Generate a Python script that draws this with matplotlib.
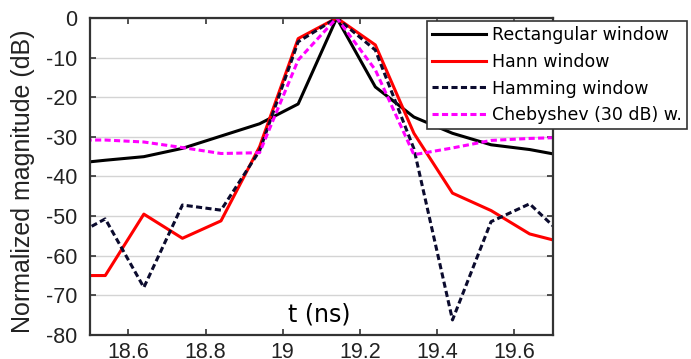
import matplotlib
matplotlib.use("Agg")
import matplotlib.pyplot as plt

plt.rcParams["font.family"] = ["Liberation Sans", "DejaVu Sans"]

# time samples (ns)
t = [18.44, 18.54, 18.64, 18.74, 18.84, 18.94, 19.04, 19.14, 19.24, 19.34, 19.44, 19.54, 19.64, 19.74]

# normalized magnitude (dB) per window
rect = [-36.9, -35.9, -35.0, -32.9, -29.8, -26.7, -21.7, 0.0, -17.4, -25.0, -29.1, -32.0, -33.2, -35.0]
hann = [-65.0, -65.0, -49.5, -55.6, -51.2, -32.5, -5.2, 0.0, -6.8, -29.1, -44.2, -48.6, -54.5, -57.0]
hamming = [-56.0, -50.7, -68.0, -47.2, -48.5, -33.5, -6.0, 0.0, -8.1, -33.0, -76.2, -51.4, -46.9, -56.1]
cheb = [-30.8, -30.8, -31.3, -32.7, -34.2, -34.0, -10.6, 0.0, -13.1, -34.5, -32.8, -30.9, -30.4, -30.1]

labels = ["Rectangular window", "Hann window", "Hamming window", "Chebyshev (30 dB) w."]
xticks = [18.6, 18.8, 19.0, 19.2, 19.4, 19.6]
xticklabels = ["18.6", "18.8", "19", "19.2", "19.4", "19.6"]
yticks = [-80, -70, -60, -50, -40, -30, -20, -10, 0]
yticklabels = ["-80", "-70", "-60", "-50", "-40", "-30", "-20", "-10", "0"]

fig = plt.figure(figsize=(6.91, 3.59), dpi=100)
ax = fig.add_axes([0.130, 0.0669, 0.670, 0.883])

lw = 2.2
dash = (0, (2, 1.1))
ax.plot(t, rect, color="black", lw=lw, label=labels[0])
ax.plot(t, hann, color="#ff0000", lw=lw, label=labels[1])
ax.plot(t, hamming, color="#0b0b2e", lw=lw, ls=dash, label=labels[2])
ax.plot(t, cheb, color="#ff00ff", lw=lw, ls=dash, label=labels[3])

ax.set_xlim(18.5, 19.7)
ax.set_ylim(-80, 0)
ax.set_xticks(xticks)
ax.set_xticklabels(xticklabels)
ax.set_yticks(yticks)
ax.set_yticklabels(yticklabels)
ax.grid(axis="y", color="#d4d4d4", lw=1)
ax.set_axisbelow(True)

for s in ax.spines.values():
    s.set_color("#333333")
    s.set_linewidth(1.6)
ax.tick_params(direction="in", top=True, right=True, length=4, width=1.2,
               color="#333333", labelsize=15.5, labelcolor="#222222")
ax.tick_params(axis="x", pad=5)
ax.tick_params(axis="y", pad=9)

fig.text(23 / 691, 1 - 181 / 359, "Normalized magnitude (dB)", rotation=90,
         fontsize=18, color="#222222", ha="center", va="center")
ax.text(0.496, 0.066, "t (ns)", transform=ax.transAxes, fontsize=17,
        family="DejaVu Sans", ha="center", va="center")

leg = fig.legend(loc="upper left", bbox_to_anchor=(427 / 691, 1 - 21 / 359),
                 prop={"family": "DejaVu Sans", "size": 12.5}, frameon=True,
                 fancybox=False, edgecolor="#333333", framealpha=1,
                 handlelength=3.1, handletextpad=0.35, labelspacing=0.5,
                 borderpad=0.3, borderaxespad=0)
leg.get_frame().set_linewidth(1.2)

fig.savefig("out.png", dpi=100)
